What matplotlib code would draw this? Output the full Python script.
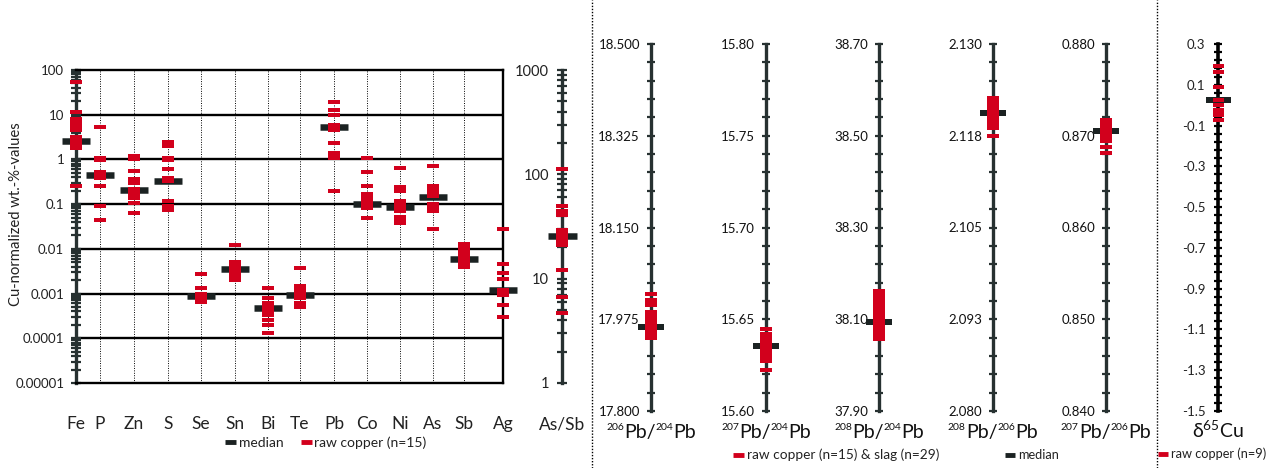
import numpy as np
import matplotlib.pyplot as plt
from matplotlib.lines import Line2D
from matplotlib.ticker import LogLocator, NullFormatter

plt.rcParams['font.family'] = ['Lato', 'DejaVu Sans']
plt.rcParams['mathtext.default'] = 'regular'
plt.rcParams['axes.unicode_minus'] = False

# ---- trace elements, Cu-normalized wt.-% ----
elements = ['Fe', 'P', 'Zn', 'S', 'Se', 'Sn', 'Bi', 'Te', 'Pb', 'Co', 'Ni', 'As', 'Sb', 'Ag']

fe_raw = [53, 11.3, 8.2, 7.2, 6.2, 5.2, 4.6, 3.1, 2.7, 2.4, 2.2, 2.0, 1.8, 0.25]
p_raw = [5.2, 1.08, 0.95, 0.52, 0.47, 0.42, 0.38, 0.26, 0.25, 0.09, 0.045]
zn_raw = [1.2, 1.0, 0.55, 0.37, 0.33, 0.3, 0.22, 0.19, 0.17, 0.14, 0.105, 0.062]
s_raw = [2.4, 2.0, 1.1, 0.95, 0.6, 0.38, 0.33, 0.12, 0.09, 0.075]
se_raw = [0.0027, 0.0013, 0.001, 0.0009, 0.0008, 0.0007, 0.00065]
sn_raw = [0.012, 0.0052, 0.0045, 0.004, 0.0033, 0.0028, 0.0024, 0.002]
bi_raw = [0.0013, 0.0008, 0.0006, 0.0005, 0.0004, 0.00034, 0.00025, 0.0002, 0.00013]
te_raw = [0.0037, 0.0015, 0.0013, 0.0011, 0.0009, 0.0008, 0.0006, 0.0005]
pb_raw = [19, 12.5, 10, 6, 5.5, 4.5, 2.3, 1.4, 1.2, 1.05, 0.2]
co_raw = [1.05, 0.52, 0.26, 0.17, 0.14, 0.12, 0.1, 0.09, 0.08, 0.048]
ni_raw = [0.63, 0.24, 0.2, 0.12, 0.1, 0.085, 0.072, 0.052, 0.042, 0.038]
as_raw = [0.7, 0.25, 0.21, 0.18, 0.15, 0.1, 0.085, 0.072, 0.028]
sb_raw = [0.013, 0.011, 0.009, 0.0075, 0.0065, 0.006, 0.0052, 0.0045, 0.004]
ag_raw = [0.028, 0.0047, 0.0029, 0.0021, 0.0012, 0.001, 0.00093, 0.00056, 0.0003]
element_raw = [fe_raw, p_raw, zn_raw, s_raw, se_raw, sn_raw, bi_raw, te_raw,
               pb_raw, co_raw, ni_raw, as_raw, sb_raw, ag_raw]
element_median = [2.6, 0.46, 0.21, 0.33, 0.00089, 0.0035, 0.00048, 0.00095,
                  5.2, 0.099, 0.086, 0.147, 0.0058, 0.0012]
elem_ticks = ['100', '10', '1', '0.1', '0.01', '0.001', '0.0001', '0.00001']

as_sb_raw = [113, 50, 45, 41, 29, 27, 25, 23, 21, 12, 6.7, 4.7]
as_sb_median = 25.8

# ---- lead isotopes, raw copper & slag ----
pb206_204 = [18.023, 18.012, 18.008, 18.003, 17.989, 17.985, 17.980, 17.976, 17.972,
             17.968, 17.965, 17.962, 17.958, 17.955, 17.951, 17.947, 17.943, 17.939]
pb207_204 = [15.6447, 15.6420, 15.6412, 15.6405, 15.6398, 15.6390, 15.6383, 15.6375,
             15.6368, 15.6360, 15.6352, 15.6345, 15.6338, 15.6330, 15.6322, 15.6300,
             15.6285, 15.6272, 15.6223]
pb208_204 = [38.162, 38.158, 38.152, 38.147, 38.140, 38.136, 38.128, 38.124, 38.119,
             38.113, 38.108, 38.102, 38.096, 38.090, 38.084, 38.078, 38.072, 38.066,
             38.060, 38.056]
pb208_206 = [2.1226, 2.1222, 2.1218, 2.1214, 2.1210, 2.1206, 2.1202, 2.1198, 2.1194,
             2.1190, 2.1186, 2.1175]
pb207_206 = [0.8717, 0.8714, 0.8711, 0.8708, 0.8705, 0.8702, 0.8699, 0.8696, 0.8694,
             0.8688, 0.8681]
iso_raw = [pb206_204, pb207_204, pb208_204, pb208_206, pb207_206]
iso_median = [17.961, 15.6356, 38.095, 2.1206, 0.87055]
iso_names = [('206', '204'), ('207', '204'), ('208', '204'), ('208', '206'), ('207', '206')]
iso_limits = [(17.8, 18.5), (15.6, 15.8), (37.9, 38.7), (2.08, 2.13), (0.84, 0.88)]
iso_ticklabels = [['17.800', '17.975', '18.150', '18.325', '18.500'],
                  ['15.60', '15.65', '15.70', '15.75', '15.80'],
                  ['37.90', '38.10', '38.30', '38.50', '38.70'],
                  ['2.080', '2.093', '2.105', '2.118', '2.130'],
                  ['0.840', '0.850', '0.860', '0.870', '0.880']]

# ---- copper isotopes ----
d65cu_raw = [0.19, 0.165, 0.09, 0.025, 0.0, -0.025, -0.04, -0.05, -0.075]
d65cu_median = 0.024
d65cu_ticklabels = ['-1.5', '-1.3', '-1.1', '-0.9', '-0.7', '-0.5', '-0.3', '-0.1', '0.1', '0.3']

# layout (pixels of the 1267 x 468 canvas)
W, H = 1267, 468
RED = '#d2001c'
MED = '#1b2222'
AXC = '#273131'
col_px = [0, 24, 58, 92, 125, 159, 192, 224, 258, 291, 324, 357, 388, 427]
iso_px = [651, 766, 879, 993, 1106]
PT = 0.72  # points per pixel at 100 dpi

fig = plt.figure(figsize=(W / 100, H / 100), dpi=100)


def px_axes(x0, y0, x1, y1):
    return fig.add_axes([x0 / W, 1 - y1 / H, (x1 - x0) / W, (y1 - y0) / H])


def marks(ax, x, vals, color, w, h, z):
    vals = np.atleast_1d(vals)
    ax.plot(np.full(len(vals), x), vals, ls='none', marker='_', ms=w * PT, mew=h * PT,
            color=color, zorder=z, clip_on=False)


def single_axis(ax, color, lw):
    ax.set_xlim(-1, 1)
    for s in ['top', 'right', 'bottom']:
        ax.spines[s].set_visible(False)
    ax.spines['left'].set_position(('data', 0))
    ax.spines['left'].set_color(color)
    ax.spines['left'].set_linewidth(lw)
    ax.spines['left'].set_zorder(1)
    ax.patch.set_visible(False)


def ratio_label(cx, cy, top, bottom):
    # big "Pb/Pb" pieces with small superscripted mass numbers, centred on cx
    pieces = [(top, 7.5, True), ('Pb/', 14, False), (bottom, 7.5, True), ('Pb', 14, False)]
    r = fig.canvas.get_renderer()
    texts = []
    for s, fs, sup in pieces:
        t = fig.text(0, 0, s, fontsize=fs, color='#111111', va='baseline', ha='left')
        texts.append((t, sup))
    widths = [t.get_window_extent(r).width for t, _ in texts]
    x = cx - sum(widths) / 2
    for (t, sup), w in zip(texts, widths):
        t.set_position((x / W, 1 - (cy - (8 if sup else 0)) / H))
        x += w


# ---------------- trace element panel ----------------
ax = px_axes(76, 70, 503, 383)
ax.set_yscale('log')
ax.set_ylim(1e-5, 100)
ax.set_xlim(0, 427)
for v in [10, 1, 0.1, 0.01, 0.001, 0.0001]:
    ax.axhline(v, color='black', lw=1.7, zorder=1)
for x in col_px[1:-1]:
    ax.axvline(x, color='black', lw=0.7, ls=(0, (1, 1.5)), zorder=0.5)
for s in ['top', 'bottom', 'right']:
    ax.spines[s].set_color('black')
    ax.spines[s].set_linewidth(1.7)
ax.spines['left'].set_color(AXC)
ax.spines['left'].set_linewidth(2.4)
ax.spines['left'].set_zorder(2)
ax.set_yticks([100, 10, 1, 0.1, 0.01, 0.001, 0.0001, 0.00001], elem_ticks)
ax.yaxis.set_minor_locator(LogLocator(base=10, subs=np.arange(2, 10)))
ax.yaxis.set_minor_formatter(NullFormatter())
ax.tick_params(axis='y', which='both', direction='inout', color=AXC, length=7, width=1.6,
               labelsize=9.5, labelcolor='#222222', pad=5)
ax.set_xticks(col_px, elements)
ax.tick_params(axis='x', length=0, labelsize=12.5, pad=24, labelcolor='#222222')
fig.text(16 / W, 1 - 214 / H, 'Cu-normalized wt.-%-values', rotation=90, fontsize=10.7,
         color='#222222', ha='center', va='center')
for x, vals, med in zip(col_px, element_raw, element_median):
    marks(ax, x, med, MED, 28, 6.5, 3)
    marks(ax, x, vals, RED, 12.5, 4, 4)

# As/Sb axis
ax2 = px_axes(542, 70, 582, 383)
single_axis(ax2, AXC, 2.4)
ax2.set_yscale('log')
ax2.set_ylim(1, 1000)
ax2.set_yticks([1, 10, 100, 1000], ['1', '10', '100', '1000'])
ax2.yaxis.set_minor_locator(LogLocator(base=10, subs=np.arange(2, 10)))
ax2.yaxis.set_minor_formatter(NullFormatter())
ax2.tick_params(axis='y', which='both', direction='inout', color=AXC, length=7, width=1.6,
                labelsize=10.5, labelcolor='#222222', pad=6)
ax2.set_xticks([0], ['As/Sb'])
ax2.tick_params(axis='x', length=0, labelsize=12.5, pad=24, labelcolor='#222222')
marks(ax2, 0, as_sb_median, MED, 29, 6.5, 3)
marks(ax2, 0, as_sb_raw, RED, 12, 4, 4)

# ---------------- lead isotope panels ----------------
for cx, vals, med, name, lim, labels in zip(iso_px, iso_raw, iso_median, iso_names,
                                             iso_limits, iso_ticklabels):
    a = px_axes(cx - 20, 44, cx + 20, 411)
    single_axis(a, AXC, 2.4)
    a.set_ylim(*lim)
    ticks = np.linspace(lim[0], lim[1], 21)
    tl = [labels[i // 5] if i % 5 == 0 else '' for i in range(21)]
    a.set_yticks(ticks, tl)
    a.tick_params(axis='y', direction='inout', color=AXC, length=6, width=1.6,
                  labelsize=9.5, labelcolor='#111111', pad=5)
    a.set_xticks([])
    ratio_label(cx, 438, *name)
    marks(a, 0, med, MED, 26, 6, 3)
    marks(a, 0, vals, RED, 12, 4, 4)

# ---------------- copper isotope panel ----------------
ad = px_axes(1198, 44, 1238, 411)
single_axis(ad, 'black', 2.6)
ad.set_ylim(-1.5, 0.3)
dticks = np.linspace(-1.5, 0.3, 46)
dl = [d65cu_ticklabels[i // 5] if i % 5 == 0 else '' for i in range(46)]
ad.set_yticks(dticks, dl)
ad.tick_params(axis='y', direction='inout', color='black', length=6, width=1.6,
               labelsize=9.5, labelcolor='#222222', pad=6)
ad.set_xticks([])
fig.text(1218 / W, 1 - 438 / H, r'$\delta^{65}$Cu', fontsize=14, color='#111111',
         ha='center', va='baseline')
marks(ad, 0, d65cu_median, MED, 25, 6, 3)
marks(ad, 0, d65cu_raw, RED, 11, 4, 4)

# separators between the three blocks
for xs in [592, 1157]:
    fig.add_artist(Line2D([xs / W, xs / W], [0, 1], color='black', lw=1.0,
                          ls=(0, (1, 1.2)), transform=fig.transFigure))


# legends
def handle(c):
    return Line2D([], [], color=c, lw=3.5, solid_capstyle='butt')


leg_kw = dict(frameon=False, handlelength=0.8, handletextpad=0.2,
              borderpad=0, labelcolor='#222222')
fig.legend([handle(MED), handle(RED)], ['median', 'raw copper (n=15)'], ncol=2, fontsize=10,
           columnspacing=1.2, loc='center', bbox_to_anchor=(326 / W, 1 - 443 / H), **leg_kw)
fig.legend([handle(RED)], ['raw copper (n=15) & slag (n=29)'], loc='center', fontsize=9.8,
           bbox_to_anchor=(836 / W, 1 - 455 / H), **leg_kw)
fig.legend([handle(MED)], ['median'], loc='center', fontsize=9.2,
           bbox_to_anchor=(1032 / W, 1 - 455 / H), **leg_kw)
fig.legend([handle(RED)], ['raw copper (n=9)'], loc='center', fontsize=9.2,
           bbox_to_anchor=(1212 / W, 1 - 454 / H), **leg_kw)

fig.savefig('out.png', dpi=100)
